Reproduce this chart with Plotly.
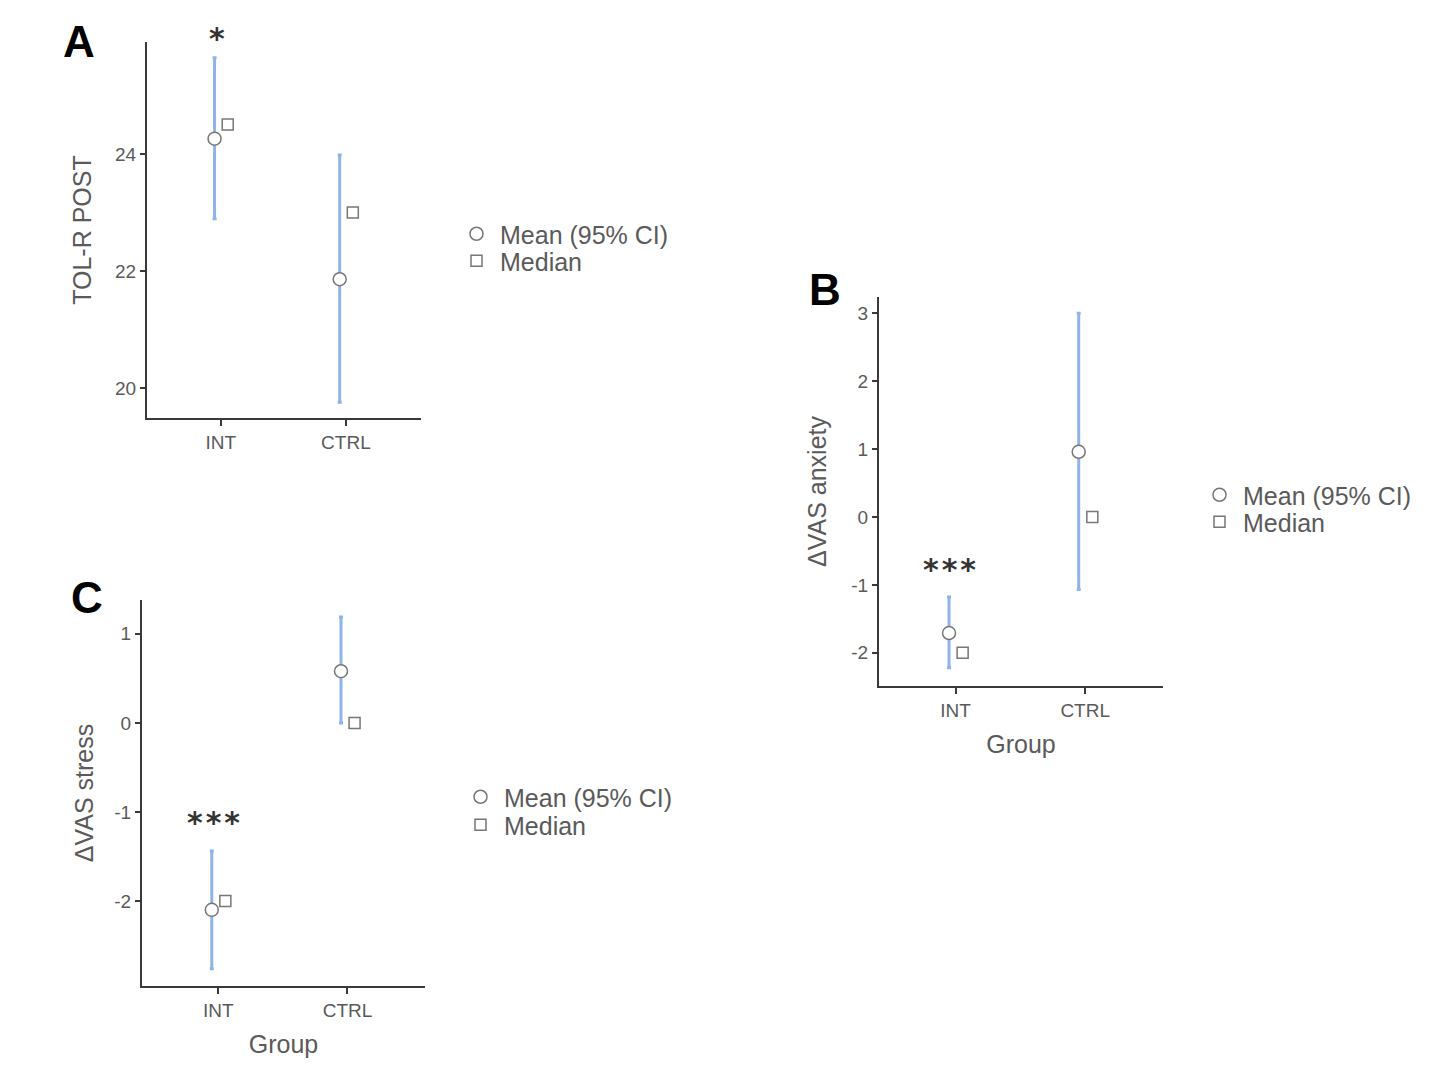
import plotly.graph_objects as go

groups = ["INT", "CTRL"]

# panel A: TOL-R POST
a_mean = [24.26, 21.86]
a_lo = [22.89, 19.76]
a_hi = [25.64, 23.98]
a_median = [24.5, 23.0]

# panel B: delta VAS anxiety
b_mean = [-1.71, 0.96]
b_lo = [-2.22, -1.07]
b_hi = [-1.18, 3.0]
b_median = [-2.0, 0.0]

# panel C: delta VAS stress
c_mean = [-2.10, 0.58]
c_lo = [-2.76, 0.0]
c_hi = [-1.44, 1.19]
c_median = [-2.0, 0.0]

a_ticks = [20, 22, 24]
b_ticks = [-2, -1, 0, 1, 2, 3]
c_ticks = [-2, -1, 0, 1]

CI_COLOR = "#8fb4ea"
MARK_LINE = "#777777"
AXIS_COLOR = "#3a3a3a"
TEXT_COLOR = "#5a5a5a"
FONT = "Liberation Sans, Arial, sans-serif"

W, H = 1440, 1080
OFF = 8  # page offset of the plot in the browser


def px_x(p):
    return (p - OFF) / W


def px_y(p):
    return 1 - (p - OFF) / H


fig = go.Figure()


def add_panel(fig, n, mean, lo, hi, median, leg_mean, leg_median):
    xa = "x" if n == 1 else f"x{n}"
    ya = "y" if n == 1 else f"y{n}"
    xs = list(range(len(groups)))
    fig.add_trace(go.Scatter(
        x=[i - 0.05 for i in xs], y=mean, xaxis=xa, yaxis=ya,
        mode="markers", name="Mean (95% CI)", legend=leg_mean,
        marker=dict(symbol="circle", size=13, color="white",
                    line=dict(color=MARK_LINE, width=1.5)),
        error_y=dict(type="data", symmetric=False,
                     array=[h - m for h, m in zip(hi, mean)],
                     arrayminus=[m - l for m, l in zip(mean, lo)],
                     color=CI_COLOR, thickness=3, width=2),
    ))
    fig.add_trace(go.Scatter(
        x=[i + 0.055 for i in xs], y=median, xaxis=xa, yaxis=ya,
        mode="markers", name="Median", legend=leg_median,
        marker=dict(symbol="square", size=11, color="white",
                    line=dict(color=MARK_LINE, width=1.5)),
    ))


add_panel(fig, 1, a_mean, a_lo, a_hi, a_median, "legend", "legend2")
add_panel(fig, 2, b_mean, b_lo, b_hi, b_median, "legend3", "legend4")
add_panel(fig, 3, c_mean, c_lo, c_hi, c_median, "legend5", "legend6")

xcommon = dict(range=[-0.59, 1.6], tickvals=[0, 1], ticktext=groups,
               showline=True, linecolor=AXIS_COLOR, linewidth=2,
               ticks="outside", ticklen=6, tickcolor=AXIS_COLOR, tickwidth=2,
               showgrid=False, zeroline=False,
               tickfont=dict(size=19, color=TEXT_COLOR, family=FONT))
ycommon = dict(showline=True, linecolor=AXIS_COLOR, linewidth=2,
               ticks="outside", ticklen=5, tickcolor=AXIS_COLOR, tickwidth=1.5,
               showgrid=False, zeroline=False,
               tickfont=dict(size=19, color=TEXT_COLOR, family=FONT))
title_font = dict(size=25, color=TEXT_COLOR, family=FONT)

legend_common = dict(font=dict(size=25, color=TEXT_COLOR, family=FONT),
                     bgcolor="rgba(0,0,0,0)", itemwidth=37,
                     xanchor="left", yanchor="middle", itemsizing="trace")


def leg(x, y):
    return dict(legend_common, x=px_x(x), y=px_y(y))


fig.update_layout(
    width=W, height=H,
    margin=dict(l=0, r=0, t=0, b=0),
    paper_bgcolor="white", plot_bgcolor="white",
    font=dict(family=FONT),
    showlegend=True,
    xaxis=dict(xcommon, domain=[px_x(147), px_x(421)], anchor="y"),
    yaxis=dict(ycommon, domain=[px_y(418), px_y(42)], anchor="x",
               range=[19.49, 25.91], tickvals=a_ticks,
               ticktext=[str(t) for t in a_ticks],
               title=dict(text="TOL-R POST", font=title_font, standoff=16)),
    xaxis2=dict(xcommon, domain=[px_x(879), px_x(1163)], anchor="y2",
                title=dict(text="Group", font=title_font, standoff=16)),
    yaxis2=dict(ycommon, domain=[px_y(686), px_y(297)], anchor="x2",
                range=[-2.49, 3.24], tickvals=b_ticks,
                ticktext=[str(t) for t in b_ticks],
                title=dict(text="ΔVAS anxiety", font=title_font, standoff=18)),
    xaxis3=dict(xcommon, domain=[px_x(142), px_x(425)], anchor="y3",
                title=dict(text="Group", font=title_font, standoff=16)),
    yaxis3=dict(ycommon, domain=[px_y(986), px_y(600)], anchor="x3",
                range=[-2.955, 1.38], tickvals=c_ticks,
                ticktext=[str(t) for t in c_ticks],
                title=dict(text="ΔVAS stress", font=title_font, standoff=14)),
    legend=leg(453, 234),
    legend2=leg(453, 261),
    legend3=leg(1196, 495),
    legend4=leg(1196, 522),
    legend5=leg(457, 797),
    legend6=leg(457, 825),
)

# significance stars
star_font = dict(size=30, color="#333333", family="DejaVu Sans")
three = "<b>*\u200a*\u200a*</b>"
fig.add_annotation(x=-0.03, y=px_y(38), xref="x", yref="paper", text="<b>*</b>",
                   yanchor="middle", showarrow=False, font=star_font)
fig.add_annotation(x=-0.05, y=-0.78, xref="x2", yref="y2", text=three,
                   showarrow=False, font=star_font)
fig.add_annotation(x=-0.04, y=-1.12, xref="x3", yref="y3", text=three,
                   showarrow=False, font=star_font)

# panel letters
for letter, lx, ly in [("A", 79, 42), ("B", 825, 289), ("C", 87, 597)]:
    fig.add_annotation(x=px_x(lx), y=px_y(ly), xref="paper", yref="paper",
                       xanchor="center", yanchor="middle",
                       text=f"<b>{letter}</b>", showarrow=False,
                       font=dict(size=44, color="black", family=FONT))

fig.write_html("out.html")
